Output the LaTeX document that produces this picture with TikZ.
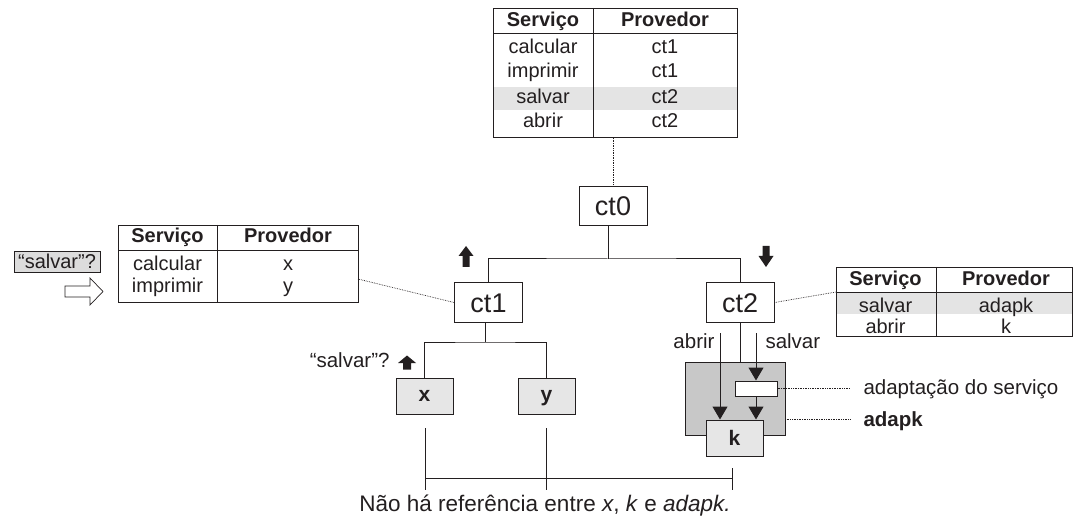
\documentclass[tikz,border=0pt]{standalone}
\usepackage{fontspec}
\setmainfont{Liberation Sans}
\usetikzlibrary{arrows.meta}
\definecolor{ink}{HTML}{231F20}
\definecolor{band}{HTML}{E4E4E4}
\definecolor{boxfill}{HTML}{E6E6E6}
\definecolor{adfill}{HTML}{C8C8C8}
\definecolor{qfill}{HTML}{DCDCDC}
\begin{document}
\begin{tikzpicture}[x=1pt,y=-1pt,line width=1pt,color=ink,
  tbl/.style={draw,inner sep=0,anchor=north west},
  cell/.style={inner sep=0,anchor=base,font=\fontsize{20}{22}\selectfont},
  hcell/.style={cell,font=\fontsize{20}{22}\selectfont\bfseries},
  ctbox/.style={draw,fill=white,minimum width=68,minimum height=39,inner sep=0,
    text height=19.4,text depth=0,font=\fontsize{27}{30}\selectfont},
  leaf/.style={draw,fill=boxfill,minimum width=57,minimum height=36,inner sep=0,
    font=\fontsize{21}{24}\selectfont\bfseries},
  lbl/.style={inner sep=0,font=\fontsize{20.5}{23}\selectfont},
  dots/.style={line width=0.7pt,densely dotted},
  arr/.style={-{Triangle[width=15pt,length=13pt]}}]
\useasboundingbox (0,0) rectangle (1073,529);

% ---------- top table ----------
\fill[band] (493,87) rectangle (737,110);
\node[tbl,minimum width=244,minimum height=129] (tt) at (493,8) {};
\draw (593,8) -- (593,137);
\draw (493,34) -- (737,34);
\node[hcell] (tth1) at (543,27) {Serviço};
\node[hcell] (tth2) at (665,27) {Provedor};
\node[cell] (tta1) at (543,54) {calcular};
\node[cell] (ttb1) at (665,54) {ct1};
\node[cell] (tta2) at (543,78) {imprimir};
\node[cell] (ttb2) at (665,78) {ct1};
\node[cell] (tta3) at (543,104) {salvar};
\node[cell] (ttb3) at (665,104) {ct2};
\node[cell] (tta4) at (543,128) {abrir};
\node[cell] (ttb4) at (665,128) {ct2};

% ---------- left table ----------
\node[tbl,minimum width=240,minimum height=77] (lt) at (118,225) {};
\draw (217,225) -- (217,302);
\draw (118,251) -- (358,251);
\node[hcell] (lth1) at (167.5,243) {Serviço};
\node[hcell] (lth2) at (288,243) {Provedor};
\node[cell] (lta1) at (167.5,270) {calcular};
\node[cell] (ltb1) at (288,270) {x};
\node[cell] (lta2) at (167.5,292) {imprimir};
\node[cell] (ltb2) at (288,292) {y};

% ---------- right table ----------
\fill[band] (836,292) rectangle (1072,314);
\node[tbl,minimum width=236,minimum height=69] (rt) at (836,267) {};
\draw (936,267) -- (936,336);
\draw (836,292) -- (1072,292);
\node[hcell] (rth1) at (885.5,285) {Serviço};
\node[hcell] (rth2) at (1006,285) {Provedor};
\node[cell] (rta1) at (885.5,312) {salvar};
\node[cell] (rtb1) at (1006,312) {adapk};
\node[cell] (rta2) at (885.5,333) {abrir};
\node[cell] (rtb2) at (1006,333) {k};

% ---------- query box and hollow arrow ----------
\node[draw,fill=qfill,minimum width=86,minimum height=21,inner sep=0,
  text height=15,text depth=2,font=\fontsize{20}{22}\selectfont] (q) at (57,262.5) {“salvar”?};
\draw[line width=0.7pt] (65,286) -- (90,286) -- (90,278) -- (103,291.5)
  -- (90,305) -- (90,297) -- (65,297) -- cycle;

% ---------- tree ----------
\node[ctbox] (ct0) at (613,206) {ct0};
\node[ctbox] (ct1) at (488.5,302.5) {ct1};
\node[ctbox] (ct2) at (740,302.5) {ct2};
\draw[dots] (ct0.north |- tt.south) -- (ct0.north);
\coordinate (j0) at (608,259);
\draw (ct0.south -| j0) -- (j0);
\draw (ct1.north) |- (j0) -| (ct2.north);

% block arrows
\fill (458.5,256) -- (466,246) -- (473.5,256) -- (469.5,256) -- (469.5,267)
  -- (462.5,267) -- (462.5,256) -- cycle;
\fill (762.5,246) -- (769.5,246) -- (769.5,256) -- (773.5,256) -- (766,267)
  -- (758.5,256) -- (762.5,256) -- cycle;

% dotted links to tables
\coordinate (ltc) at (358,279);
\coordinate (rtc) at (836,292);
\draw[dots] (ct1.west) -- (ltc);
\draw[dots] (ct2.east) -- (rtc);

% ct1 children
\node[leaf,text height=11,text depth=0] (xb) at (424.5,396) {x};
\node[leaf,text height=11,text depth=0] (yb) at (546.5,396) {y};
\coordinate (j1) at (485,342);
\draw (ct1.south -| j1) -- (j1);
\draw (xb.north) |- (j1) -| (yb.north);
\node[lbl,anchor=base east] (qs) at (390,367) {“salvar”?};
\fill (398,363) -- (407,355.5) -- (416,363) -- (411,363) -- (411,369.5)
  -- (403,369.5) -- (403,363) -- cycle;

% ct2 child: adapk with k
\node[draw,fill=adfill,minimum width=100,minimum height=73,inner sep=0] (ad) at (735,398.5) {};
\node[leaf,text height=15,text depth=0] (k) at (734.5,438) {k};
\node[draw,fill=white,minimum width=42,minimum height=15,inner sep=0] (wb) at (756,388.5) {};
\draw (ct2.south) -- (ct2.south |- ad.north);
\coordinate (ab) at (720,333);
\coordinate (sv) at (756,333);
\draw[arr] (ab) -- (ab |- k.north);
\draw[arr] (sv) -- (wb.north);
\draw[arr] (wb.south) -- (wb.south |- k.north);
\node[lbl,anchor=base east] (labr) at (715,348) {abrir};
\node[lbl,anchor=base west] (lsal) at (765,348) {salvar};

% annotations
\coordinate (wbe) at (850,388.5);
\coordinate (adr) at (785,419);
\coordinate (ade) at (850,419);
\draw[dots] (wb.east) -- (wbe);
\draw[dots] (adr) -- (ade);
\node[lbl,anchor=base west] (la1) at (863,394) {adaptação do serviço};
\node[lbl,anchor=base west,font=\fontsize{20.5}{23}\selectfont\bfseries] (la2) at (863,426) {adapk};

% no-reference bracket
\coordinate (b1t) at (425,428);
\coordinate (b1b) at (425,490);
\coordinate (b2t) at (546,428);
\coordinate (b2b) at (546,490);
\coordinate (b3t) at (732,468);
\coordinate (b3b) at (732,490);
\draw (b1t) -- (b1b);
\draw (b2t) -- (b2b);
\draw (b3t) -- (b3b);
\draw (b1t |- 0,478) -- (b3t |- 0,478);

\node[inner sep=0,anchor=base,font=\fontsize{22.5}{26}\selectfont] (cap) at (545,511)
  {Não há referência entre \textit{x}, \textit{k} e \textit{adapk.}};
\end{tikzpicture}
\end{document}
